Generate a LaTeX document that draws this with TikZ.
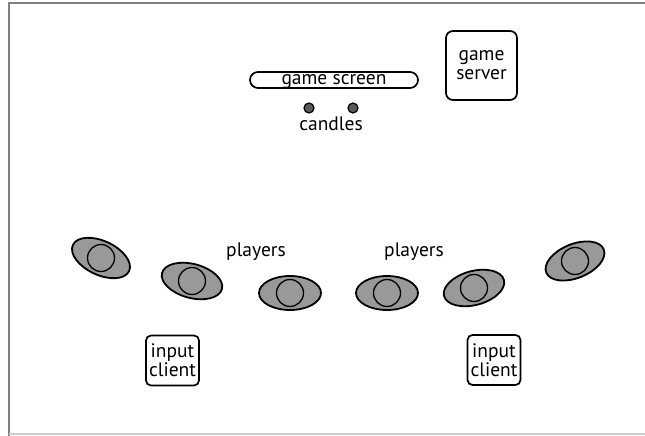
\documentclass[tikz,border=0pt]{standalone}
\usepackage{fontspec}
\setmainfont{PT Sans}
\usepackage{tikz}
\usetikzlibrary{positioning,shapes.geometric}
\tikzset{
  frm/.style={line width=1.8pt,black!50},
  box/.style={draw,rounded corners=7pt,line width=1.7pt,align=center,inner sep=1pt,font=\lbl},
  candle/.style={circle,draw,fill=black!65,line width=1.2pt,minimum size=10pt,inner sep=0pt},
  seat/.style={ellipse,draw,fill=black!40,line width=1.8pt,minimum width=62pt,minimum height=34pt,inner sep=0pt},
  head/.style={circle,draw,line width=1.3pt,minimum size=27pt,inner sep=0pt},
  lbl/.style={font=\lbl},
}
\newcommand{\lbl}{\fontsize{19.5}{19}\selectfont}
\begin{document}
\begin{tikzpicture}[x=1pt,y=1pt]
  \useasboundingbox (0,0) rectangle (645,436);
  % window edges
  \draw[frm] (645,433)--(9,433)--(9,0);
  \draw[line width=1.8pt,black!20] (9,2)--(645,2);
  % screen, candles and server
  \node[box,rounded corners=8pt,minimum width=168pt,text height=11pt,text depth=1pt,inner sep=2pt] (screen) at (334,356) {game screen};
  \node[candle] (c1) at (309,328) {};
  \node[candle] (c2) at (353,328) {};
  \node[lbl] (candles) at (331,312) {candles};
  \node[box,minimum width=71pt,minimum height=69pt] (server) at (481.5,370.5) {game\\server};
  % players around the table
  \node[lbl] (pl) at (256,184) {players};
  \node[lbl] (pr) at (414,184) {players};
  \foreach \n/\x/\y/\a in {1/101/178/-25,2/192/155/-15,3/290/143/0,4/387/143/0,5/474/148/15,6/575/175/22}{
    \node[seat,rotate=\a] (s\n) at (\x,\y) {};
    \node[head] (h\n) at (\x,\y) {};
  }
  % input clients
  \node[box,rounded corners=5pt,minimum width=53pt,minimum height=50pt] (ic1) at (172.5,75.5) {input\\client};
  \node[box,rounded corners=5pt,minimum width=53pt,minimum height=50pt] (ic2) at (494,76) {input\\client};
\end{tikzpicture}
\end{document}
